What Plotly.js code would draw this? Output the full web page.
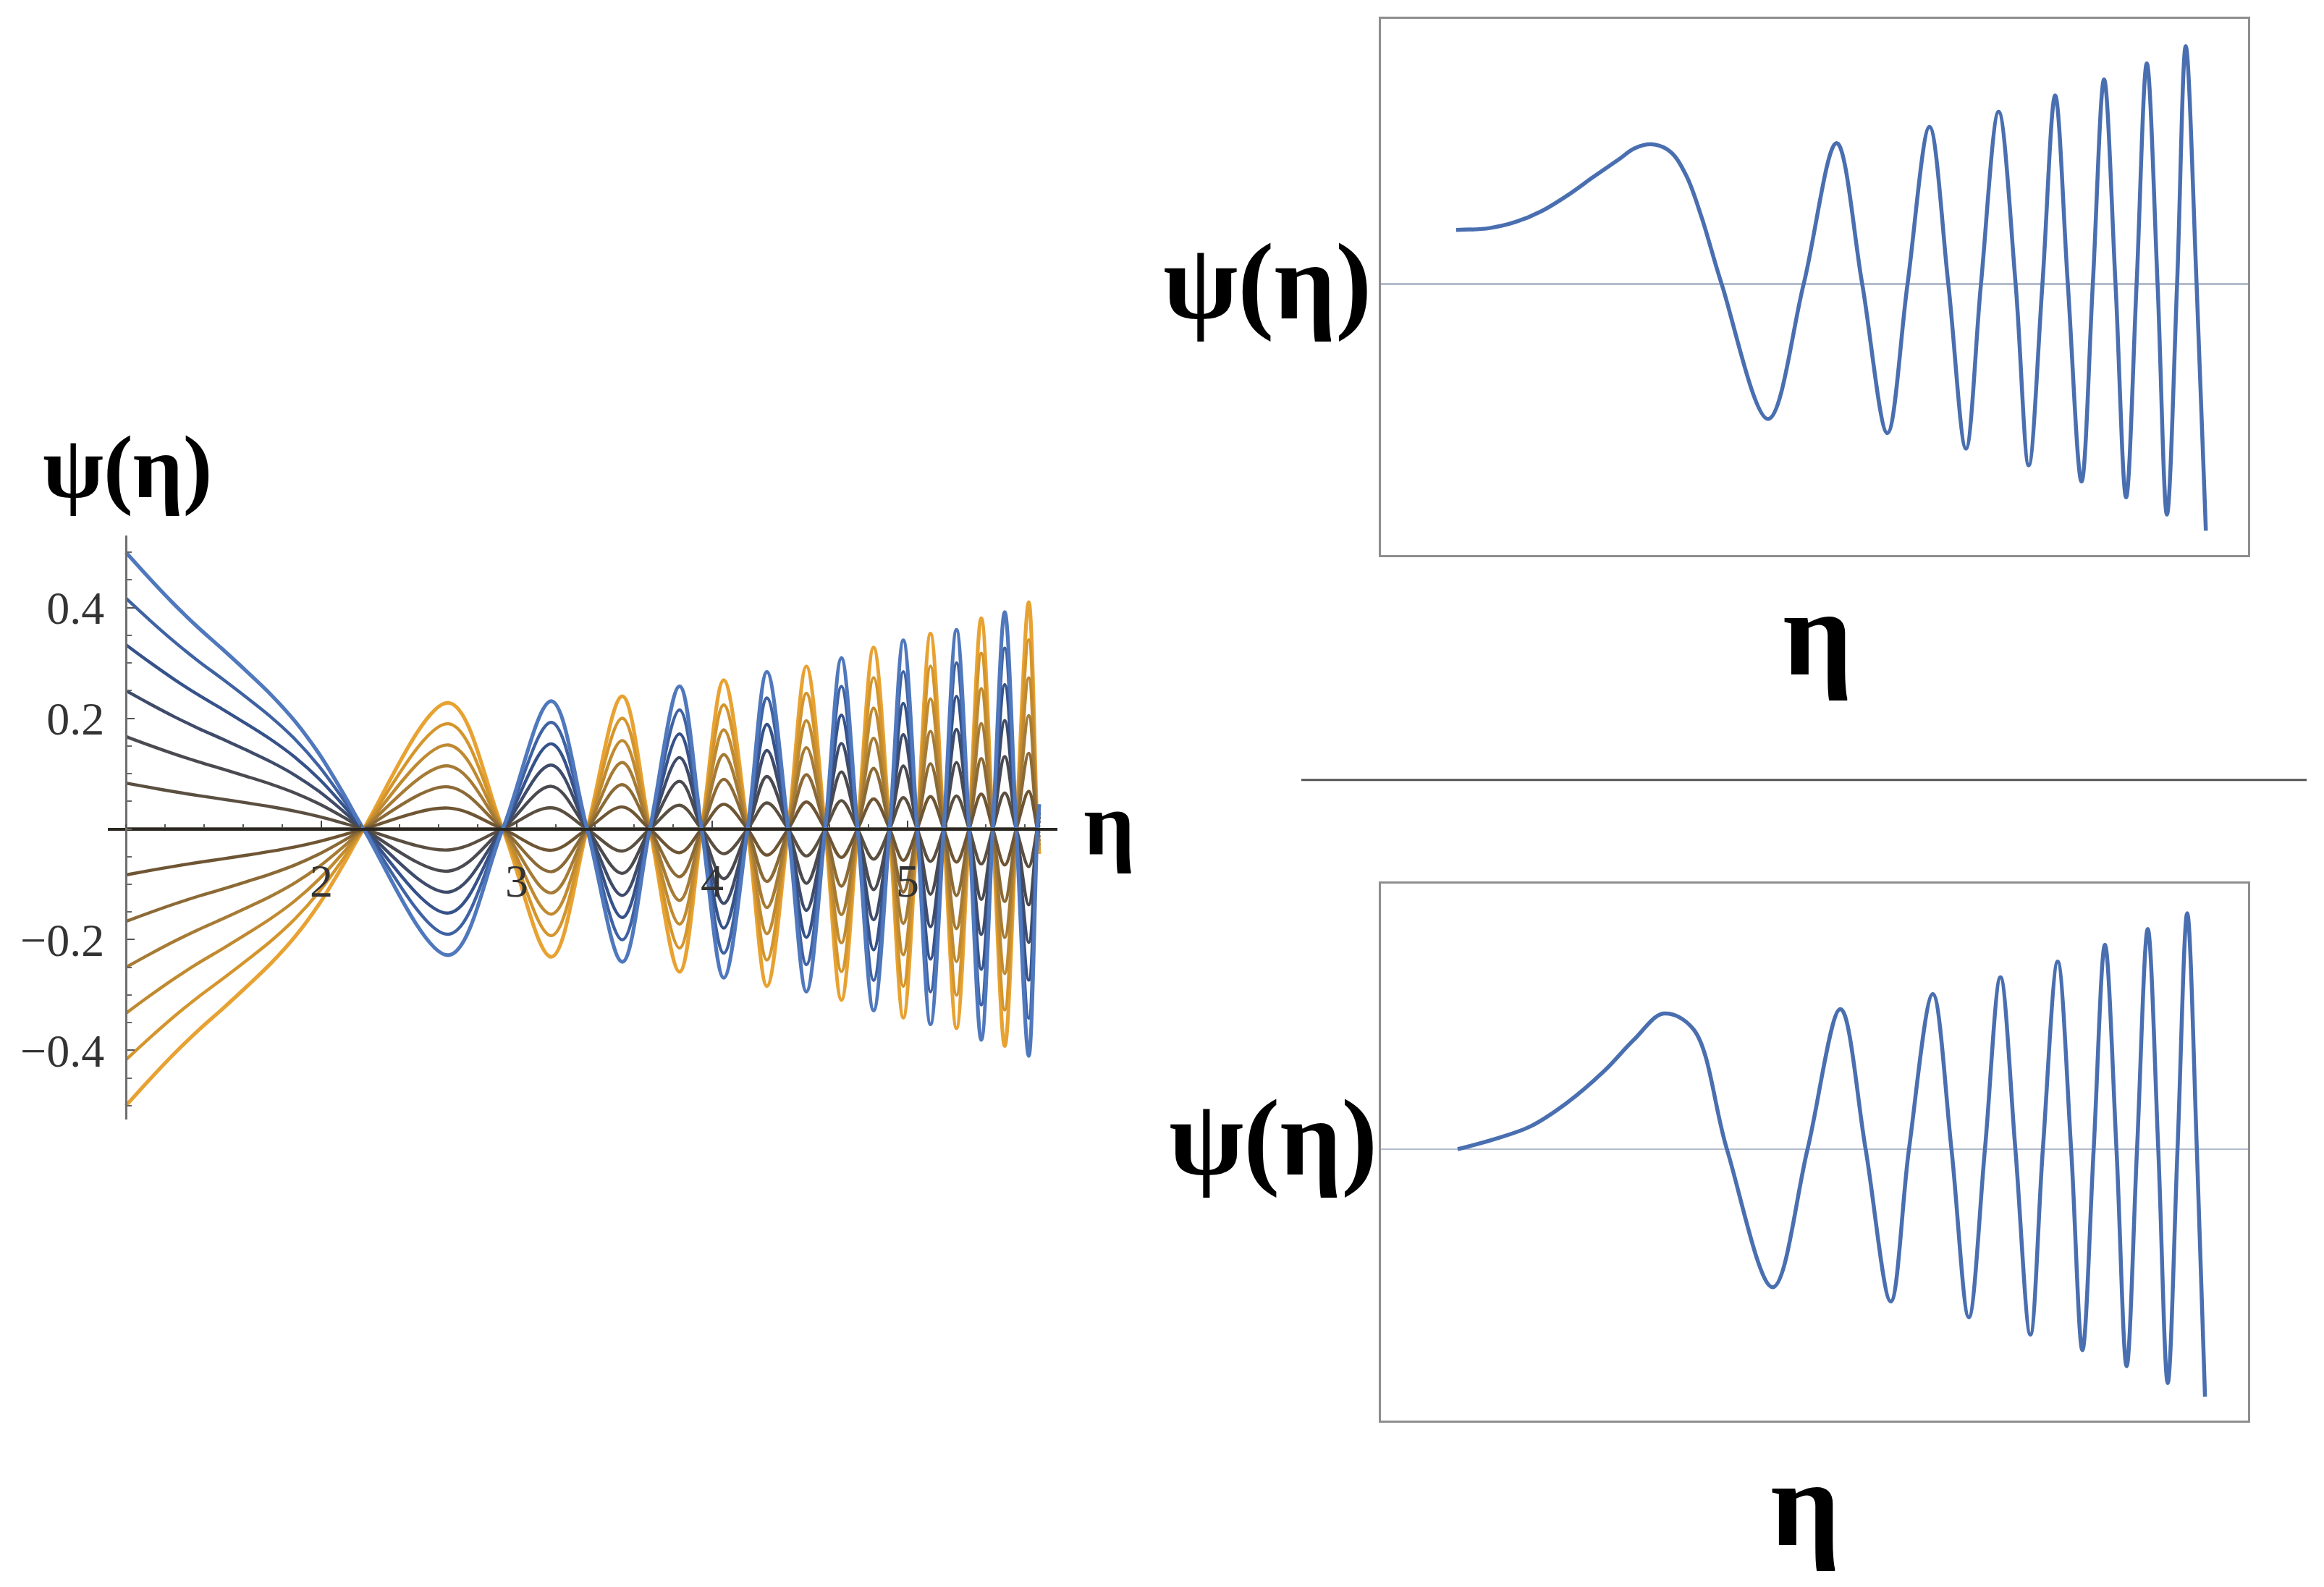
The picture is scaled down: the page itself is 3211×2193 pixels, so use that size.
<!DOCTYPE html>
<html>
<head>
<meta charset="utf-8">
<script src="https://cdn.plot.ly/plotly-3.0.1.min.js"></script>
<style>
html,body{margin:0;padding:0;background:#fff;}
#chart{width:3211px;height:2193px;}
</style>
</head>
<body>
<div id="chart"></div>
<script>
// ---------- DATA ----------
// Left panel: outermost curve (starts at +0.5 at eta = 1)
const etaLeft = [1.000, 1.123, 1.247, 1.370, 1.494, 1.617, 1.741, 1.864, 1.988, 2.111, 2.216,
  2.651, 2.928, 3.177, 3.360, 3.540, 3.681, 3.833, 3.946, 4.059, 4.181, 4.280, 4.389, 4.482,
  4.578, 4.661, 4.744, 4.826, 4.908, 4.978, 5.049, 5.117, 5.185, 5.250, 5.315, 5.377, 5.436,
  5.497, 5.556, 5.620, 5.664, 5.674];
const psiOuter = [0.500, 0.452, 0.406, 0.364, 0.325, 0.285, 0.243, 0.195, 0.136, 0.065, 0.000,
  -0.228, 0.000, 0.231, 0.000, -0.240, 0.000, 0.258, 0.000, -0.269, 0.000, 0.284, 0.000, -0.294,
  0.000, 0.309, 0.000, -0.328, 0.000, 0.341, 0.000, -0.353, 0.000, 0.360, 0.000, -0.381, 0.000,
  0.392, 0.000, -0.410, 0.000, 0.045];
// value of each curve of the family at eta = 1
const startValues = [0.5, 0.417, 0.333, 0.25, 0.167, 0.083, 0, -0.083, -0.167, -0.25, -0.333, -0.417, -0.5];
const leftXTicks = [2, 3, 4, 5];
const leftYTicks = [-0.4, -0.2, 0.2, 0.4];

// Right top panel (no tick marks; arbitrary horizontal units 0-100, frame top = 1)
const xTopRight = [8.68, 12.56, 15.53, 18.53, 21.50, 24.46, 27.46, 29.25, 31.34, 33.42, 35.23, 36.98,
  39.30, 44.66, 48.75, 52.55, 55.51, 58.41, 60.73, 63.27, 65.44, 67.47, 69.20, 71.24,
  73.20, 74.71, 76.29, 77.76, 79.22, 80.80, 82.10, 83.40, 84.72, 85.94, 87.15, 88.33, 89.57, 90.65,
  91.82, 92.82, 94.07, 95.14];
const yTopRight = [0.205, 0.212, 0.235, 0.276, 0.335, 0.404, 0.472, 0.513, 0.528, 0.499, 0.409, 0.253,
  0.000, -0.509, 0.000, 0.533, 0.000, -0.562, 0.000, 0.594, 0.000, -0.621, 0.000, 0.651,
  0.000, -0.684, 0.000, 0.712, 0.000, -0.745, 0.000, 0.773, 0.000, -0.805, 0.000, 0.834, 0.000, -0.870,
  0.000, 0.899, 0.000, -0.931];

// Right bottom panel
const xBottomRight = [8.85, 12.88, 17.17, 21.45, 25.74, 29.17, 32.60, 36.04, 39.90, 45.20,
  49.20, 53.00, 55.90, 58.80, 60.90, 63.65, 65.80, 67.80, 69.66, 71.45, 73.17, 74.90, 76.34, 78.05,
  79.60, 80.90, 82.20, 83.50, 84.83, 86.00, 87.20, 88.44, 89.65, 90.74, 91.87, 92.99, 94.10, 95.04];
const yBottomRight = [0.000, 0.036, 0.085, 0.175, 0.295, 0.413, 0.512, 0.453, 0.000, -0.521,
  0.000, 0.529, 0.000, -0.575, 0.000, 0.586, 0.000, -0.635, 0.000, 0.649, 0.000, -0.700, 0.000, 0.708,
  0.000, -0.759, 0.000, 0.772, 0.000, -0.819, 0.000, 0.831, 0.000, -0.883, 0.000, 0.891, 0.000, -0.934];

const axisLabel = "ψ(η)";
const etaLabel = "η";

// ---------- STYLE ----------
const familyColors = ['#4f78bd', '#3f62a3', '#36528a', '#3f4b6a', '#4a4a50', '#5a4f40', '#3a342a',
  '#6e5533', '#8c6a36', '#a67b35', '#c08a30', '#d4952c', '#e8a232'];
const W = 3211, H = 2193;
const px = X => X / W;
const py = Y => 1 - Y / H;
const serif = 'Liberation Serif, Times New Roman, serif';

const traces = [];
for (let i = startValues.length - 1; i >= 0; i--) {
  const s = startValues[i];
  traces.push({
    x: etaLeft,
    y: psiOuter.map(v => v * s / psiOuter[0]),
    type: 'scatter', mode: 'lines',
    line: {color: familyColors[i], width: (Math.abs(s) > 0.45 ? 5.2 : 4.4), shape: 'spline', smoothing: 1},
    xaxis: 'x', yaxis: 'y', hoverinfo: 'skip'
  });
}
traces.push({
  x: xTopRight, y: yTopRight, type: 'scatter', mode: 'lines',
  line: {color: '#4a6fb0', width: 5.5, shape: 'spline', smoothing: 1},
  xaxis: 'x2', yaxis: 'y2', hoverinfo: 'skip'
});
traces.push({
  x: xBottomRight, y: yBottomRight, type: 'scatter', mode: 'lines',
  line: {color: '#4a6fb0', width: 5.5, shape: 'spline', smoothing: 1},
  xaxis: 'x3', yaxis: 'y3', hoverinfo: 'skip'
});

const tickFont = {family: serif, size: 64, color: '#333333'};
const frameAxis = {
  showticklabels: false, ticks: '', showgrid: false, showline: true, mirror: true,
  linecolor: '#8e8e8e', linewidth: 3, zeroline: false, fixedrange: true
};

const layout = {
  width: W, height: H,
  margin: {l: 0, r: 0, t: 0, b: 0, pad: 0},
  paper_bgcolor: '#ffffff', plot_bgcolor: 'rgba(0,0,0,0)',
  showlegend: false, hovermode: false,
  xaxis: {
    domain: [px(148.8), px(1461.4)], range: [0.9065, 5.768],
    anchor: 'free', position: py(1146),
    showline: true, linecolor: '#2a2620', linewidth: 4,
    showgrid: false, zeroline: false,
    ticks: 'inside', tickvals: leftXTicks, ticklen: 10, tickwidth: 2, tickcolor: '#444',
    minor: {dtick: 0.2, tick0: 1, ticks: 'inside', ticklen: 5, tickwidth: 2, tickcolor: '#555'},
    tickfont: tickFont, ticklabelstandoff: 14, automargin: false
  },
  yaxis: {
    domain: [py(1547), py(740.3)], range: [-0.525, 0.53],
    anchor: 'free', position: px(174),
    showline: true, linecolor: '#6e6e6e', linewidth: 2.5,
    showgrid: false, zeroline: false,
    ticks: 'inside', tickvals: leftYTicks, ticklen: 10, tickwidth: 2, tickcolor: '#555',
    minor: {dtick: 0.05, tick0: 0, ticks: 'inside', ticklen: 6, tickwidth: 2, tickcolor: '#666'},
    tickfont: tickFont, ticklabelstandoff: 16, automargin: false
  },
  xaxis2: Object.assign({}, frameAxis, {domain: [px(1908), px(3106)], range: [0, 100], anchor: 'y2'}),
  yaxis2: Object.assign({}, frameAxis, {domain: [py(767), py(25.5)], range: [-1.0227, 1.0033], anchor: 'x2',
    zeroline: true, zerolinecolor: '#b3bccb', zerolinewidth: 2.5}),
  xaxis3: Object.assign({}, frameAxis, {domain: [px(1908), px(3106)], range: [0, 100], anchor: 'y3'}),
  yaxis3: Object.assign({}, frameAxis, {domain: [py(1962.7), py(1221.3)], range: [-1.0238, 1.0019], anchor: 'x3',
    zeroline: true, zerolinecolor: '#b3bccb', zerolinewidth: 2.5}),
  shapes: [
    {type: 'line', xref: 'paper', yref: 'paper', x0: px(1798), x1: px(3187), y0: py(1077.7), y1: py(1077.7),
     line: {color: '#555555', width: 3}}
  ],
  annotations: [
    {text: axisLabel, xref: 'paper', yref: 'paper', x: px(176), y: py(646), xanchor: 'center', yanchor: 'middle',
     showarrow: false, font: {family: serif, size: 122, color: '#000', weight: 'bold'}},
    {text: etaLabel, xref: 'paper', yref: 'paper', x: px(1532), y: py(1138), xanchor: 'center', yanchor: 'middle',
     showarrow: false, font: {family: serif, size: 125, color: '#000', weight: 'bold'}},
    {text: axisLabel, xref: 'paper', yref: 'paper', x: px(1751), y: py(390), xanchor: 'center', yanchor: 'middle',
     showarrow: false, font: {family: serif, size: 150, color: '#000', weight: 'bold'}},
    {text: etaLabel, xref: 'paper', yref: 'paper', x: px(2511), y: py(875), xanchor: 'center', yanchor: 'middle',
     showarrow: false, font: {family: serif, size: 170, color: '#000', weight: 'bold'}},
    {text: axisLabel, xref: 'paper', yref: 'paper', x: px(1759), y: py(1572), xanchor: 'center', yanchor: 'middle',
     showarrow: false, font: {family: serif, size: 150, color: '#000', weight: 'bold'}},
    {text: etaLabel, xref: 'paper', yref: 'paper', x: px(2494), y: py(2078), xanchor: 'center', yanchor: 'middle',
     showarrow: false, font: {family: serif, size: 170, color: '#000', weight: 'bold'}}
  ]
};

Plotly.newPlot('chart', traces, layout, {displayModeBar: false, staticPlot: true});
</script>
</body>
</html>
